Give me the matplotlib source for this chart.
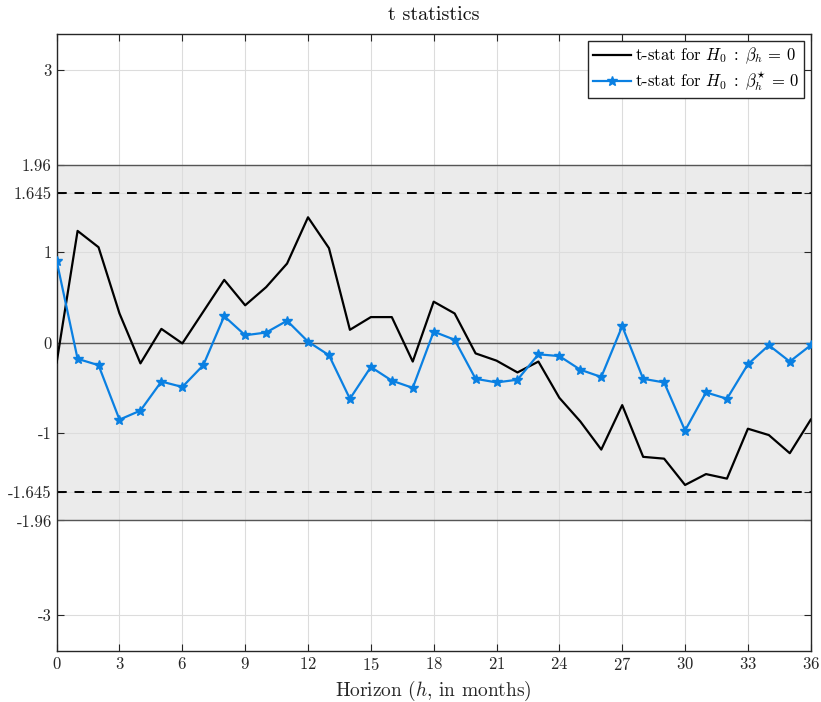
import numpy as np
import matplotlib
matplotlib.use("Agg")
import matplotlib.pyplot as plt

plt.rcParams['font.family'] = ['cmr10', 'DejaVu Serif']
plt.rcParams['mathtext.fontset'] = 'cm'
plt.rcParams['axes.formatter.use_mathtext'] = True

# horizons (months)
horizon = np.arange(0, 37)

# t-stat for H0: beta_h = 0
t_beta = [-0.22, 1.23, 1.05, 0.32, -0.23, 0.15, -0.01, 0.34, 0.69, 0.41,
          0.61, 0.87, 1.38, 1.04, 0.14, 0.28, 0.28, -0.21, 0.45, 0.32,
          -0.12, -0.20, -0.33, -0.21, -0.61, -0.87, -1.18, -0.69, -1.26, -1.28,
          -1.57, -1.45, -1.50, -0.95, -1.02, -1.22, -0.85]

# t-stat for H0: beta*_h = 0
t_beta_star = [0.90, -0.18, -0.25, -0.85, -0.75, -0.43, -0.49, -0.25, 0.29, 0.08,
               0.11, 0.24, 0.01, -0.14, -0.62, -0.27, -0.42, -0.50, 0.12, 0.03,
               -0.40, -0.44, -0.41, -0.13, -0.15, -0.30, -0.38, 0.18, -0.40, -0.44,
               -0.97, -0.55, -0.62, -0.24, -0.03, -0.21, -0.03]

xticks = np.arange(0, 37, 3)
yticks = [-3, -1.96, -1.645, -1, 0, 1, 1.645, 1.96, 3]
ytick_labels = ['-3', '-1.96', '-1.645', '-1', '0', '1', '1.645', '1.96', '3']

fig = plt.figure(figsize=(8.21, 7.02), dpi=100)
ax = fig.add_axes([0.069, 0.0726, 0.9185, 0.879])

# critical region shading
ax.axhspan(-1.96, 1.96, color='#ebebeb', zorder=0, lw=0)
for v in [-1.96, 0, 1.96]:
    ax.axhline(v, color='#555555', lw=1.0, zorder=1)
for v in [-1.645, 1.645]:
    ax.axhline(v, color='black', lw=1.4, ls=(0, (5, 4)), zorder=1)

ax.plot(horizon, t_beta, color='black', lw=1.6, zorder=3,
        label=r't-stat for $H_0\;:\;\beta_h\,=\,0$')
ax.plot(horizon, t_beta_star, color='#0a80e2', lw=1.6, marker='*', ms=7,
        zorder=4, label=r't-stat for $H_0\;:\;\beta^{\star}_h\,=\,0$')

ax.set_xlim(0, 36)
ax.set_ylim(-3.4, 3.4)
ax.set_xticks(xticks)
ax.set_yticks(yticks)
ax.set_yticklabels(ytick_labels)
ax.grid(True, color='#dcdcdc', lw=0.8, zorder=0.5)
ax.set_axisbelow(True)
ax.tick_params(direction='in', length=5, top=True, right=True,
               labelsize=12, colors='#262626', labelcolor='#262626')
for s in ax.spines.values():
    s.set_color('#262626')
    s.set_linewidth(1.0)

ax.set_xlabel(r'Horizon ($h$, in months)', fontsize=14, color='#262626')
ax.set_title('t statistics', fontsize=14.5, color='#111111', pad=10)

leg = ax.legend(loc='upper right', fontsize=12, fancybox=False,
                framealpha=1, edgecolor='#262626', borderpad=0.3,
                handlelength=2.3, handletextpad=0.2, borderaxespad=0.4,
                labelspacing=0.2)
leg.get_frame().set_linewidth(1.0)

fig.savefig('out.png', dpi=100)
